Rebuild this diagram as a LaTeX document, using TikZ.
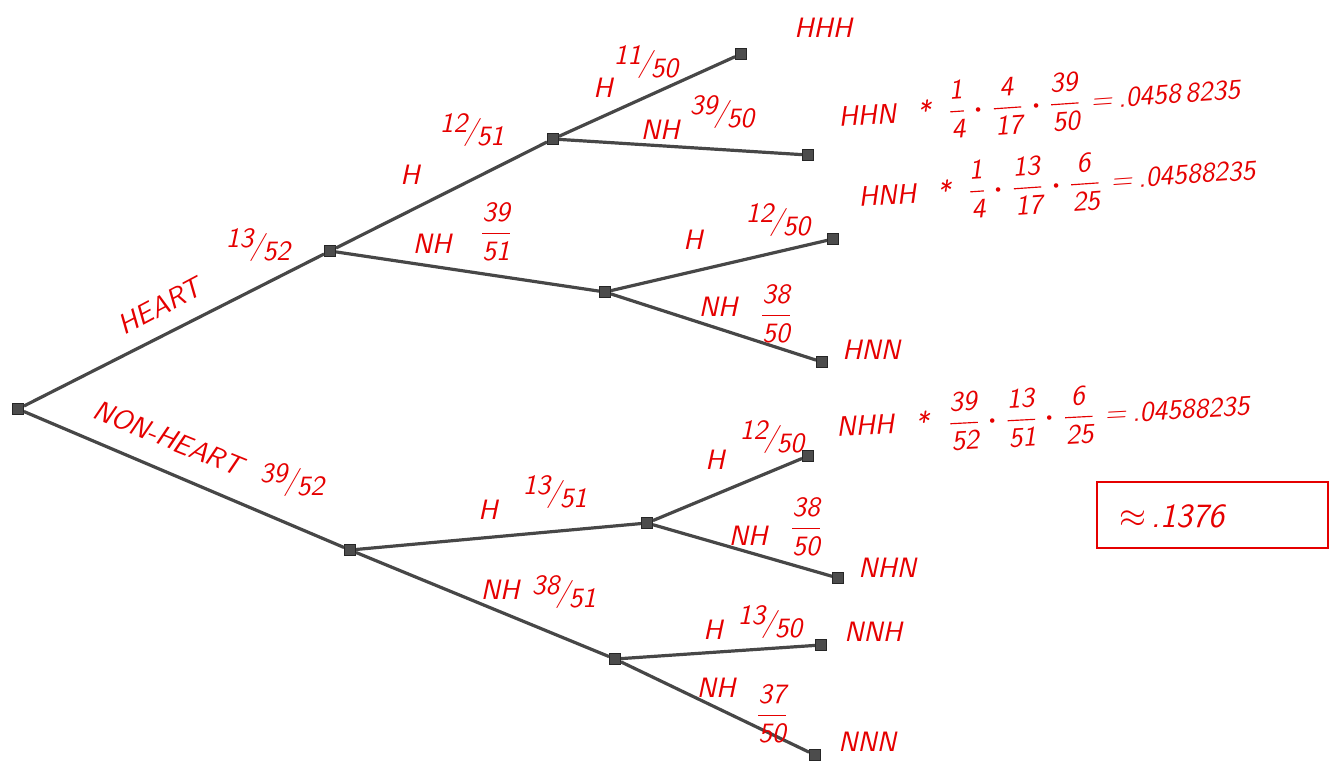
\documentclass[tikz,border=0pt]{standalone}
\usepackage{amsmath}
\newcommand{\hfr}[2]{$\dfrac{\mbox{#1}}{\mbox{#2}}$}
\newcommand{\sfr}[2]{\raisebox{0.5ex}{#1}\kern-0.1em/\kern-0.05em\raisebox{-0.5ex}{#2}}
\newcommand{\md}{\hspace{4pt}$\boldsymbol{\cdot}$\hspace{4pt}}
\newcommand{\eqs}{\hspace{5pt}=\hspace{3pt}}
\begin{document}
\begin{tikzpicture}[x=0.5pt,y=-0.5pt,
  knot/.style={rectangle,fill=black!70,draw=black!85,minimum size=5.5pt,inner sep=0pt},
  branch/.style={draw=black!72,line width=1.6pt},
  lbl/.style={text=red!90!black,font=\fontsize{14}{16}\selectfont\sffamily\itshape,inner sep=1pt},
  leaflbl/.style={text=red!90!black,font=\fontsize{14}{17}\selectfont\sffamily\itshape,inner sep=1pt,anchor=west}]
\useasboundingbox (0,0) rectangle (1342,762);
% nodes
\node[knot] (R) at (18,409) {};
\node[knot] (H1) at (330,251) {};
\node[knot] (N1) at (350,550) {};
\node[knot] (HH) at (553,139) {};
\node[knot] (HN) at (605,292) {};
\node[knot] (NH) at (647,523) {};
\node[knot] (NN) at (615,659) {};
\node[knot] (HHH) at (741,54) {};
\node[knot] (HHN) at (808,155) {};
\node[knot] (HNH) at (833,239) {};
\node[knot] (HNN) at (822,362) {};
\node[knot] (NHH) at (808,456) {};
\node[knot] (NHN) at (838,578) {};
\node[knot] (NNH) at (821,645) {};
\node[knot] (NNN) at (815,755) {};
% branches
\draw[branch] (R) -- (H1);
\draw[branch] (R) -- (N1);
\draw[branch] (H1) -- (HH);
\draw[branch] (H1) -- (HN);
\draw[branch] (N1) -- (NH);
\draw[branch] (N1) -- (NN);
\draw[branch] (HH) -- (HHH);
\draw[branch] (HH) -- (HHN);
\draw[branch] (HN) -- (HNH);
\draw[branch] (HN) -- (HNN);
\draw[branch] (NH) -- (NHH);
\draw[branch] (NH) -- (NHN);
\draw[branch] (NN) -- (NNH);
\draw[branch] (NN) -- (NNN);
% branch labels
\node[lbl,rotate=28] (tHeart) at (160,306) {HEART};
\node[lbl] (pHeart) at (258,245) {\sfr{13}{52}};
\node[lbl,rotate=-22] (tNon) at (168,438) {NON-HEART};
\node[lbl] (pNon) at (292,480) {\sfr{39}{52}};
\node[lbl] (tH1) at (410,175) {H};
\node[lbl] (pH1) at (472,130) {\sfr{12}{51}};
\node[lbl] (tN1) at (432,244) {NH};
\node[lbl] (pN1) at (496,232) {\hfr{39}{51}};
\node[lbl] (tHH) at (603,88) {H};
\node[lbl] (pHH) at (646,62) {\sfr{11}{50}};
\node[lbl] (tHN) at (660,130) {NH};
\node[lbl] (pHN) at (722,112) {\sfr{39}{50}};
\node[lbl] (tNH) at (693,240) {H};
\node[lbl] (pNH) at (778,220) {\sfr{12}{50}};
\node[lbl] (tNN) at (718,307) {NH};
\node[lbl] (pNN) at (776,314) {\hfr{38}{50}};
\node[lbl] (tHb) at (488,510) {H};
\node[lbl] (pHb) at (555,492) {\sfr{13}{51}};
\node[lbl] (tNb) at (500,590) {NH};
\node[lbl] (pNb) at (564,592) {\sfr{38}{51}};
\node[lbl] (tHc) at (715,460) {H};
\node[lbl] (pHc) at (772,437) {\sfr{12}{50}};
\node[lbl] (tNc) at (748,536) {NH};
\node[lbl] (pNc) at (806,527) {\hfr{38}{50}};
\node[lbl] (tHd) at (713,630) {H};
\node[lbl] (pHd) at (770,622) {\sfr{13}{50}};
\node[lbl] (tNd) at (716,688) {NH};
\node[lbl] (pNd) at (772,714) {\hfr{37}{50}};
% leaf labels
\node[leaflbl] (lHHH) at (792,28) {HHH};
\node[leaflbl,rotate=4] (lHHN) at (836,118) {HHN\hspace{6pt} *\hspace{4pt} \hfr{1}{4}\md\hfr{4}{17}\md\hfr{39}{50}\eqs.0458\,8235};
\node[leaflbl,rotate=4] (lHNH) at (856,198) {HNH\hspace{6pt} *\hspace{4pt} \hfr{1}{4}\md\hfr{13}{17}\md\hfr{6}{25}\eqs.04588235};
\node[leaflbl] (lHNN) at (840,350) {HNN};
\node[leaflbl,rotate=3] (lNHH) at (834,428) {NHH\hspace{6pt} *\hspace{5pt} \hfr{39}{52}\md\hfr{13}{51}\md\hfr{6}{25}\eqs.04588235};
\node[leaflbl] (lNHN) at (856,568) {NHN};
\node[leaflbl] (lNNH) at (842,632) {NNH};
\node[leaflbl] (lNNN) at (836,742) {NNN};
% result box
\draw[draw=red!90!black,line width=1.3pt] (1097,482) rectangle (1328,548);
\node[lbl,font=\fontsize{17}{20}\selectfont\sffamily\itshape] (res) at (1172,516) {$\approx$\,.1376};
\end{tikzpicture}
\end{document}
